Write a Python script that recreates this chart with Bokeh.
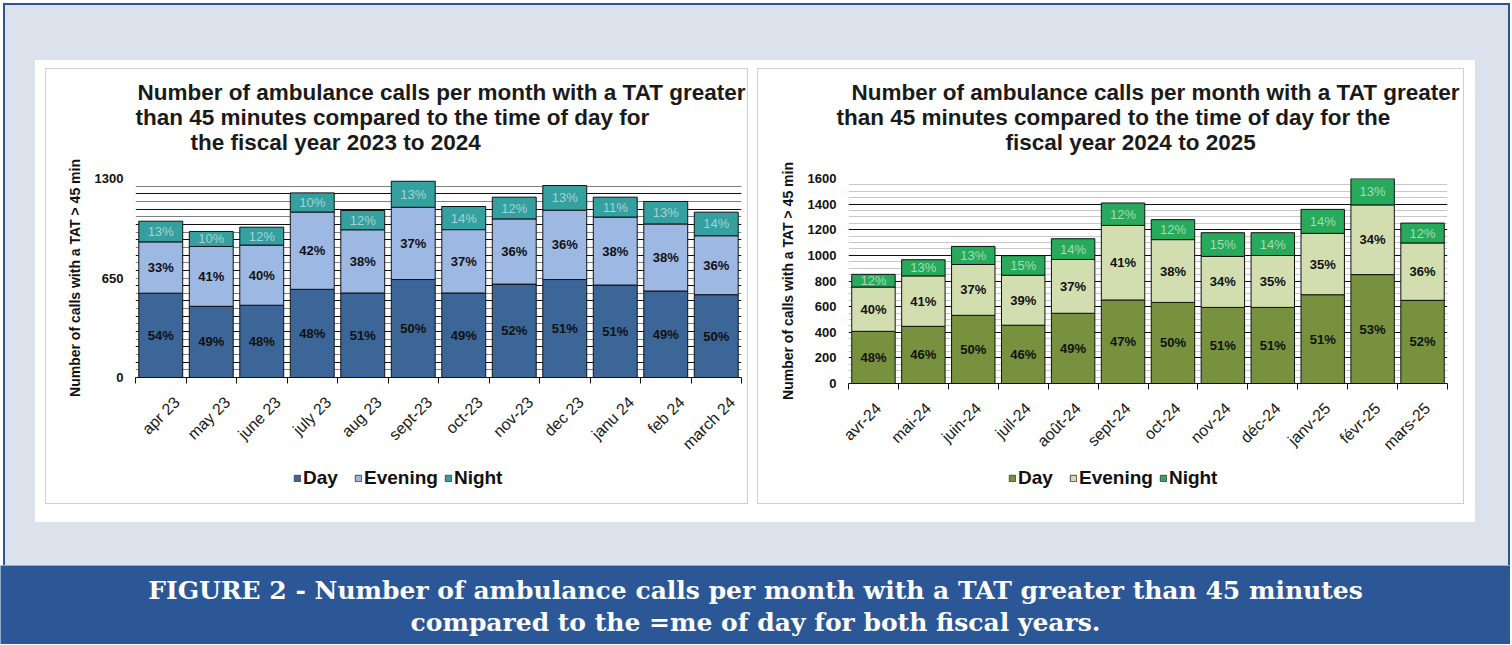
import math
import numpy as np
from bokeh.plotting import figure
from bokeh.models import (ColumnDataSource, Range1d, FixedTicker, Grid, Legend,
                          LegendItem, Title, Spacer)
from bokeh.layouts import column, row
from bokeh.core.properties import value
from bokeh.embed import file_html
from bokeh.resources import INLINE

# ---------------- data: fiscal year 2023-2024 ----------------
months_a = ["apr 23", "may 23", "june 23", "july 23", "aug 23", "sept-23",
            "oct-23", "nov-23", "dec 23", "janu 24", "feb 24", "march 24"]
day_a = [551, 465, 472, 576, 552, 640, 552, 610, 640, 604, 565, 541]
evening_a = [335, 391, 393, 505, 413, 472, 414, 426, 453, 444, 438, 385]
night_a = [135, 98, 117, 125, 126, 170, 151, 142, 161, 130, 147, 154]
day_pct_a = [54, 49, 48, 48, 51, 50, 49, 52, 51, 51, 49, 50]
evening_pct_a = [33, 41, 40, 42, 38, 37, 37, 36, 36, 38, 38, 36]
night_pct_a = [13, 10, 12, 10, 12, 13, 14, 12, 13, 11, 13, 14]
yticks_a = [0, 650, 1300]
title_a = ["Number of ambulance calls per month with a TAT greater",
           "than 45 minutes compared to the time of day for",
           "the fiscal year 2023 to 2024"]

# ---------------- data: fiscal year 2024-2025 ----------------
months_b = ["avr-24", "mai-24", "juin-24", "juil-24", "août-24", "sept-24",
            "oct-24", "nov-24", "déc-24", "janv-25", "févr-25", "mars-25"]
day_b = [407, 446, 532, 455, 548, 652, 633, 594, 594, 693, 850, 649]
evening_b = [346, 394, 397, 390, 420, 582, 490, 398, 405, 479, 544, 448]
night_b = [99, 126, 141, 153, 162, 175, 156, 185, 178, 187, 205, 155]
day_pct_b = [48, 46, 50, 46, 49, 47, 50, 51, 51, 51, 53, 52]
evening_pct_b = [40, 41, 37, 39, 37, 41, 38, 34, 35, 35, 34, 36]
night_pct_b = [12, 13, 13, 15, 14, 12, 12, 15, 14, 14, 13, 12]
yticks_b = [0, 200, 400, 600, 800, 1000, 1200, 1400, 1600]
title_b = ["Number of ambulance calls per month with a TAT greater",
           "than 45 minutes compared to the time of day for the",
           "fiscal year 2024 to 2025"]

series_names = ["Day", "Evening", "Night"]
y_title = "Number of calls with a TAT > 45 min"
caption_lines = ["FIGURE 2 - Number of ambulance calls per month with a TAT greater than 45 minutes",
                 "compared to the =me of day for both fiscal years."]

FONT = "Liberation Sans"


def make_chart(months, day, eve, night, pd_, pe_, pn_, colors, night_txt,
               ymax, yticks, grid_major, grid_minor, minor_color, titles,
               title_offsets, frame_w, frame_h, borders, label_shift):
    n = len(months)
    x = np.arange(n) + 0.5
    p = figure(frame_width=frame_w, frame_height=frame_h, x_range=Range1d(0, n),
               y_range=Range1d(0, ymax), toolbar_location=None,
               output_backend="svg",
               min_border_left=borders[0], min_border_right=borders[1],
               min_border_top=borders[2], min_border_bottom=borders[3])
    p.background_fill_color = "white"
    p.border_fill_color = "white"
    p.outline_line_color = None

    # grids
    p.xgrid.visible = False
    p.ygrid.ticker = FixedTicker(ticks=grid_major)
    p.ygrid.grid_line_color = "#111111"
    p.ygrid.grid_line_width = 1
    p.add_layout(Grid(dimension=1, ticker=FixedTicker(ticks=grid_minor),
                      grid_line_color=minor_color, grid_line_width=1))

    src = ColumnDataSource(dict(x=x, day=day, evening=eve, night=night))
    p.vbar_stack(["day", "evening", "night"], x="x", width=0.87,
                 source=src, fill_color=colors, line_color="#111111",
                 line_width=1)

    d = np.array(day, dtype=float)
    e = np.array(eve, dtype=float)
    nt = np.array(night, dtype=float)
    lab_sets = [(d / 2, pd_, "#111111", "bold"),
                (d + e / 2, pe_, "#111111", "bold"),
                (d + e + nt / 2, pn_, night_txt, "normal")]
    for ys, pcts, col, style in lab_sets:
        ls = ColumnDataSource(dict(x=x, y=ys, t=[f"{v}%" for v in pcts]))
        p.text(x="x", y="y", text="t", source=ls, text_align="center",
               text_baseline="middle", text_font=value(FONT),
               text_font_style=style, text_font_size="13px", text_color=col)

    # x axis: labels at categories, ticks at boundaries
    label_pos = [float(v) for v in (x + label_shift)]
    xa = p.xaxis[0]
    xa.ticker = FixedTicker(ticks=label_pos, minor_ticks=list(range(n + 1)))
    xa.major_label_overrides = {k: m for k, m in zip(label_pos, months)}
    xa.major_label_orientation = math.pi / 4
    xa.major_tick_line_color = None
    xa.major_tick_out = 0
    xa.major_tick_in = 0
    xa.minor_tick_line_color = "#111111"
    xa.minor_tick_out = 6
    xa.minor_tick_in = 0
    xa.axis_line_color = "#111111"
    xa.major_label_standoff = 16
    xa.major_label_text_font = FONT
    xa.major_label_text_font_size = "16px"
    xa.major_label_text_color = "#1a1a1a"

    ya = p.yaxis[0]
    ya.ticker = FixedTicker(ticks=yticks)
    ya.axis_line_color = None
    ya.major_tick_line_color = None
    ya.minor_tick_line_color = None
    ya.major_tick_out = 0
    ya.major_tick_in = 0
    ya.major_label_standoff = 12
    ya.major_label_text_font = FONT
    ya.major_label_text_font_style = "bold"
    ya.major_label_text_font_size = "13px"
    ya.major_label_text_color = "#111111"
    ya.axis_label = y_title
    ya.axis_label_text_font = FONT
    ya.axis_label_text_font_style = "bold"
    ya.axis_label_text_font_size = "14px"
    ya.axis_label_text_color = "#111111"
    ya.axis_label_standoff = 9

    # gap between frame and the title block
    p.add_layout(Title(text=" ", text_font_size="1px", standoff=22), "above")
    # titles (added from the innermost line outwards)
    for txt, off in zip(reversed(titles), reversed(title_offsets)):
        p.add_layout(Title(text=txt, align="left", offset=off,
                           text_font=FONT, text_font_size="22.5px",
                           text_font_style="bold", text_color="#1a1a1a",
                           standoff=-2.5), "above")
    return p


def make_legend(colors, width, height, loc):
    # legend strip below the chart; swatch glyphs sit outside the visible range
    lf = figure(width=width, height=height, x_range=Range1d(0, 1),
                y_range=Range1d(0, 1), toolbar_location=None,
                output_backend="svg", min_border=0,
                x_axis_location=None, y_axis_location=None)
    lf.grid.visible = False
    lf.outline_line_color = None
    lf.background_fill_color = "white"
    lf.border_fill_color = "white"
    items = []
    for lab, c in zip(series_names, colors):
        r = lf.vbar(x=[-5], top=[-5], bottom=[-6], width=0.1, fill_color=c,
                    line_color="#4a4a4a", line_width=1)
        items.append(LegendItem(label=lab, renderers=[r]))
    leg = Legend(items=items, orientation="horizontal", location=loc)
    leg.label_text_font = FONT
    leg.label_text_font_style = "bold"
    leg.label_text_font_size = "19px"
    leg.label_text_color = "#111111"
    leg.glyph_width = 8
    leg.glyph_height = 8
    leg.label_standoff = 2
    leg.label_width = 45
    leg.spacing = 6
    leg.padding = 1
    leg.margin = 0
    leg.border_line_color = None
    leg.background_fill_alpha = 0
    lf.add_layout(leg)
    return lf


colors_a = ["#3c6598", "#9cb8e3", "#34a0a0"]
colors_b = ["#77913e", "#d3deb0", "#27aa5c"]

pA = make_chart(months_a, day_a, evening_a, night_a, day_pct_a, evening_pct_a,
                night_pct_a, colors_a, "#a6d3d3",
                1300, yticks_a, list(range(0, 1301, 100)),
                list(range(50, 1300, 100)), "#7f7f7f", title_a, [2, 0, 55],
                606, 199, (89, 6, 109, 86), 0.32)

pB = make_chart(months_b, day_b, evening_b, night_b, day_pct_b, evening_pct_b,
                night_pct_b, colors_b, "#a3dcb6",
                1600, yticks_b, list(range(0, 1601, 200)),
                [v for v in range(50, 1600, 50) if v % 200], "#c8c8c8",
                title_b, [3, -12, 157], 599, 205, (90, 16, 109, 80), 0.1)

lA = make_legend(colors_a, 701, 40, (158, 14))
lB = make_legend(colors_b, 705, 40, (160, 14))

# caption band
cap = figure(width=1510, height=79, x_range=Range1d(0, 1), y_range=Range1d(0, 1),
             toolbar_location=None, output_backend="svg", min_border=0,
             x_axis_location=None, y_axis_location=None)
cap.grid.visible = False
cap.outline_line_color = None
cap.background_fill_color = "#2b5797"
cap.border_fill_color = "#2b5797"
cap.text(x=[0.5, 0.5], y=[0.684, 0.278], text=caption_lines, text_align="center",
         text_baseline="middle", text_font=value("DejaVu Serif"),
         text_font_style="bold", text_font_size="25px", text_color="white")


def boxed(fig, leg):
    inner = column(fig, leg, styles={"background-color": "white"})
    return column(Spacer(height=1),
                  row(Spacer(width=1), inner, Spacer(width=1)),
                  Spacer(height=1), styles={"background-color": "#cfcfcf"})


white_panel = column(Spacer(height=8),
                     row(Spacer(width=10), boxed(pA, lA), Spacer(width=9),
                         boxed(pB, lB), Spacer(width=11)),
                     Spacer(height=18), styles={"background-color": "white"})
light = column(Spacer(height=55),
               row(Spacer(width=30), white_panel, Spacer(width=33)),
               Spacer(height=43), styles={"background-color": "#dbe2eb"})
bluebox = column(Spacer(height=2), row(Spacer(width=2), light, Spacer(width=2)),
                 styles={"background-color": "#2d5595"})
root = column(Spacer(height=3), row(Spacer(width=3), bluebox), cap,
              styles={"background-color": "white"})

open("out.html", "w").write(file_html(root, INLINE))
